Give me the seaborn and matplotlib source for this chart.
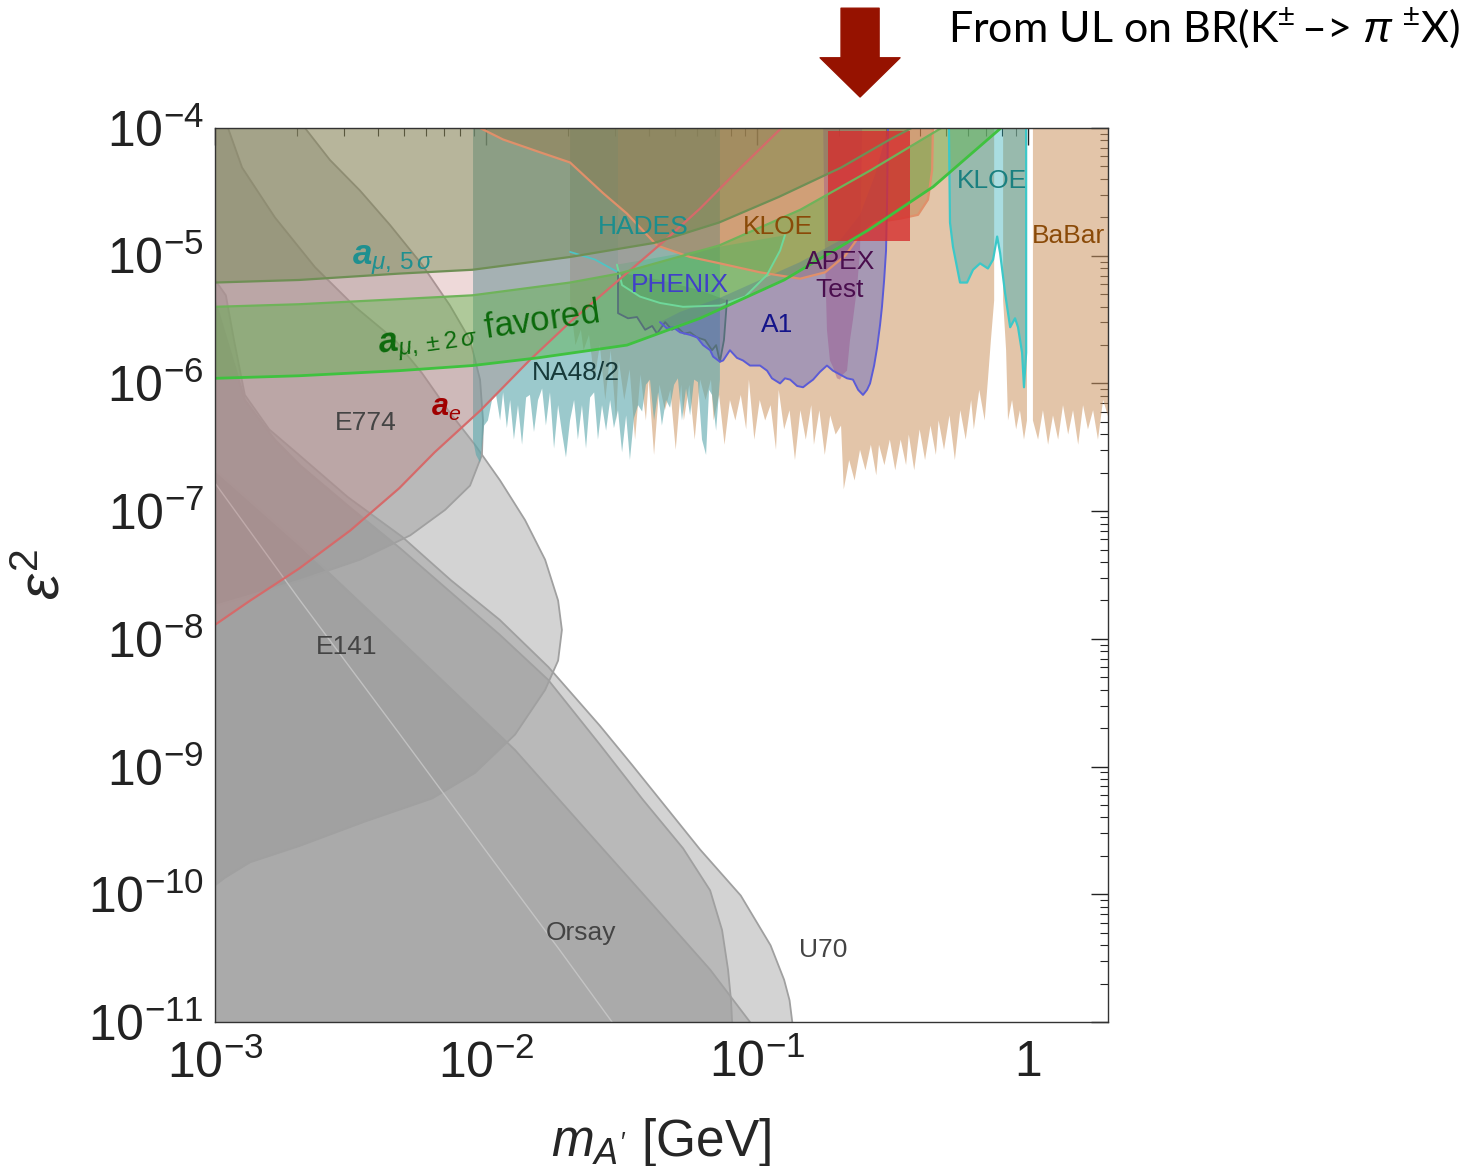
import numpy as np
import matplotlib
matplotlib.use("Agg")
import matplotlib.pyplot as plt
import seaborn as sns
from matplotlib.ticker import FixedLocator, FixedFormatter, LogLocator, NullFormatter

# ---------------------------------------------------------------------------
# Region boundaries, given as log10(m_A' / GeV) and log10(eps^2)
# ---------------------------------------------------------------------------

# electron g-2
ae_lgm = [-3.00, -2.87, -2.69, -2.50, -2.32, -2.19, -2.02, -1.84, -1.69, -1.51, -1.34, -1.21, -1.06, -0.91]
ae_lge = [-7.89, -7.70, -7.45, -7.15, -6.82, -6.54, -6.21, -5.82, -5.52, -5.19, -4.88, -4.63, -4.31, -4.00]

# muon g-2, 5 sigma
amu5_lgm = [-3.00, -2.69, -2.32, -2.05, -1.69, -1.38, -1.14, -0.92, -0.69, -0.51, -0.43]
amu5_lge = [-5.21, -5.19, -5.14, -5.11, -5.01, -4.90, -4.74, -4.54, -4.31, -4.09, -4.00]

# muon g-2, +-2 sigma favoured band
amu2_up_lgm = [-3.00, -2.69, -2.32, -2.05, -1.69, -1.51, -1.14, -0.84, -0.58, -0.32]
amu2_up_lge = [-5.40, -5.38, -5.34, -5.31, -5.21, -5.14, -4.92, -4.64, -4.33, -4.00]
amu2_lo_lgm = [-3.00, -2.69, -2.32, -2.05, -1.81, -1.48, -1.21, -0.90, -0.59, -0.35, -0.10]
amu2_lo_lge = [-5.96, -5.94, -5.90, -5.86, -5.80, -5.70, -5.49, -5.19, -4.80, -4.46, -4.00]

# beam dumps
u70_lgm = [-3.00, -2.96, -2.93, -2.89, -2.80, -2.69, -2.51, -2.31, -2.13, -1.95, -1.77, -1.58,
           -1.46, -1.21, -1.06, -0.95, -0.90, -0.88, -0.87]
u70_lge = [-5.19, -5.31, -5.66, -6.09, -6.36, -6.56, -6.89, -7.20, -7.54, -7.85, -8.22, -8.68,
           -8.99, -9.65, -10.01, -10.40, -10.67, -10.83, -11.00]
u70b_lgm = [-3.00, -2.945, -2.889, -2.779, -2.686, -2.502, -2.317, -2.133, -1.948, -1.771, -1.579,
            -1.421, -1.273, -1.173, -1.129, -1.107, -1.096, -1.092]
u70b_lge = [-5.35, -5.74, -6.13, -6.44, -6.64, -6.97, -7.29, -7.63, -7.97, -8.32, -8.83,
            -9.26, -9.64, -9.97, -10.28, -10.59, -10.83, -11.00]
orsay_lgm = [-3.00, -2.686, -2.317, -1.893, -1.579, -1.369, -1.173, -1.026]
orsay_lge = [-6.68, -7.27, -8.01, -8.87, -9.62, -10.12, -10.59, -11.00]
orsay_in_lgm = [-3.00, -2.686, -2.317, -1.948, -1.727, -1.535]
orsay_in_lge = [-6.78, -7.70, -8.75, -9.81, -10.44, -11.00]
e141_lgm = [-2.952, -2.900, -2.779, -2.631, -2.483, -2.336, -2.236, -2.140, -2.041, -1.948, -1.856,
            -1.782, -1.734, -1.720, -1.734, -1.782, -1.893, -2.041, -2.199, -2.446, -2.686, -2.871,
            -2.963, -3.000]
e141_lge = [-4.00, -4.31, -4.70, -5.09, -5.40, -5.66, -5.92, -6.21, -6.48, -6.76, -7.07,
            -7.38, -7.70, -7.93, -8.17, -8.40, -8.75, -9.05, -9.25, -9.43, -9.62, -9.75,
            -9.87, -9.93]
e774_lgm = [-2.668, -2.576, -2.465, -2.354, -2.236, -2.133, -2.059, -2.022, -2.011, -2.015, -2.059,
            -2.151, -2.280, -2.465, -2.686, -2.871, -3.000]
e774_lge = [-4.00, -4.25, -4.49, -4.76, -5.07, -5.39, -5.66, -5.97, -6.29, -6.56, -6.80,
            -6.99, -7.19, -7.38, -7.54, -7.66, -7.74]

# NA48/2
na48_lgm = [-2.048, -2.037, -2.022, -2.007, -1.993, -1.978, -1.963, -1.948, -1.937, -1.923, -1.911,
            -1.897, -1.882, -1.867, -1.852, -1.838, -1.823, -1.808, -1.793, -1.779, -1.764, -1.749,
            -1.734, -1.720, -1.705, -1.690, -1.675, -1.661, -1.646, -1.631, -1.616, -1.601, -1.587,
            -1.572, -1.557, -1.542, -1.528, -1.513, -1.498, -1.483, -1.469, -1.454, -1.439, -1.424,
            -1.410, -1.395, -1.380, -1.365, -1.351, -1.336, -1.321, -1.306, -1.292, -1.277, -1.262,
            -1.247, -1.232, -1.218, -1.203, -1.188, -1.177, -1.166, -1.151, -1.137]
na48_lge = [-6.44, -6.56, -6.62, -6.33, -6.29, -6.13, -6.09, -6.29, -6.07, -6.35, -6.13,
            -6.44, -6.17, -6.48, -6.11, -6.09, -6.38, -6.13, -6.04, -6.33, -6.07, -6.51,
            -6.17, -6.38, -6.58, -6.29, -6.13, -6.44, -6.17, -6.51, -6.11, -6.07, -6.44,
            -6.17, -6.37, -6.13, -6.35, -6.21, -6.54, -6.25, -6.60, -6.27, -6.17, -6.22,
            -6.01, -5.97, -6.29, -6.07, -6.33, -6.13, -6.19, -6.01, -5.96, -6.29, -6.04,
            -6.25, -5.97, -5.99, -6.44, -6.56, -6.05, -6.09, -6.37, -5.97]

# BaBar (three mass windows)
babar1_lgm = [-1.69, -1.67, -1.65, -1.64, -1.62, -1.60, -1.58, -1.56, -1.54, -1.52, -1.51, -1.49,
              -1.47, -1.45, -1.43, -1.41, -1.40, -1.38, -1.36, -1.34, -1.32, -1.30, -1.28, -1.27,
              -1.25, -1.23, -1.21, -1.19, -1.17, -1.16, -1.14, -1.12, -1.10, -1.08, -1.06, -1.04,
              -1.03, -1.01, -0.99, -0.97, -0.95, -0.93, -0.92, -0.90, -0.88, -0.86, -0.84, -0.82,
              -0.80, -0.79, -0.77, -0.75, -0.73, -0.71, -0.69, -0.68, -0.66, -0.64, -0.62, -0.60,
              -0.58, -0.56, -0.55, -0.53, -0.51, -0.49, -0.47, -0.45, -0.44, -0.42, -0.40, -0.38,
              -0.36, -0.34, -0.33, -0.31, -0.29, -0.27, -0.25, -0.23, -0.21, -0.20, -0.18, -0.16,
              -0.148, -0.137, -0.125]
babar1_lge = [-5.35, -5.70, -5.58, -5.74, -5.62, -5.97, -5.70, -6.13, -5.74, -6.29, -5.82, -6.13,
              -5.89, -6.44, -5.93, -6.29, -5.97, -6.56, -6.01, -6.21, -6.05, -6.52, -6.01, -6.29,
              -6.01, -6.44, -5.97, -6.13, -5.97, -6.29, -6.09, -6.48, -6.13, -6.29, -6.09, -6.36,
              -5.97, -6.44, -6.13, -6.29, -6.17, -6.52, -6.05, -6.36, -6.21, -6.60, -6.21, -6.44,
              -6.17, -6.48, -6.21, -6.56, -6.25, -6.40, -6.33, -6.83, -6.60, -6.76, -6.52, -6.68,
              -6.48, -6.72, -6.48, -6.64, -6.44, -6.68, -6.44, -6.64, -6.40, -6.68, -6.36, -6.60,
              -6.33, -6.56, -6.29, -6.52, -6.25, -6.60, -6.21, -6.44, -6.13, -6.36, -6.05, -6.29,
              -5.97, -5.66, -5.35]
babar2_lgm = [-0.092, -0.081, -0.074, -0.059, -0.044, -0.030, -0.015, -0.004]
babar2_lge = [-5.35, -5.74, -6.29, -6.13, -6.36, -6.21, -6.44, -6.29]
babar3_lgm = [0.018, 0.037, 0.055, 0.074, 0.092, 0.111, 0.129, 0.148, 0.166, 0.185, 0.203, 0.221,
              0.240, 0.258, 0.277, 0.300]
babar3_lge = [-6.29, -6.44, -6.21, -6.48, -6.25, -6.44, -6.17, -6.40, -6.21, -6.48, -6.17, -6.36,
              -6.21, -6.44, -6.13, -6.29]

# KLOE (phi -> eta A')
kloe_lgm = [-2.022, -1.937, -1.801, -1.690, -1.568, -1.480, -1.369, -1.247, -1.137, -0.989, -0.841,
            -0.749, -0.675, -0.620, -0.565, -0.472, -0.406, -0.369, -0.354, -0.351]
kloe_lge = [-4.00, -4.09, -4.19, -4.27, -4.51, -4.67, -4.92, -5.01, -5.06, -5.13, -5.18,
            -5.13, -5.00, -4.84, -4.74, -4.71, -4.68, -4.56, -4.33, -4.00]

# HADES
hades_lgm = [-1.690, -1.598, -1.513]
hades_lge = [-4.97, -5.03, -5.13]
hades_bowl_lgm = [-1.517, -1.498, -1.432, -1.358, -1.273, -1.137, -1.044, -0.963, -0.915, -0.897]
hades_bowl_lge = [-5.07, -5.23, -5.32, -5.37, -5.40, -5.39, -5.32, -5.15, -4.96, -4.84]

# PHENIX
phenix_lgm = [-1.513, -1.513, -1.476, -1.443, -1.413, -1.387, -1.369, -1.339, -1.314, -1.295, -1.269,
              -1.247, -1.221, -1.192, -1.166, -1.151, -1.137, -1.122, -1.111]
phenix_lge = [-5.13, -5.45, -5.49, -5.48, -5.58, -5.55, -5.61, -5.52, -5.58, -5.56, -5.61,
              -5.60, -5.64, -5.66, -5.74, -5.70, -5.83, -5.66, -5.35]
phenix_top_lgm = [-1.210, -1.358]
phenix_top_lge = [-5.27, -5.19]

# A1 (MAMI): lower edge and right edge, then the upper edge back to the start
a1_lgm = [-1.358, -1.332, -1.310, -1.284, -1.247, -1.221, -1.199, -1.173, -1.162, -1.137, -1.125,
          -1.100, -1.074, -1.052, -1.026, -0.989, -0.963, -0.945, -0.915, -0.897, -0.878, -0.852,
          -0.830, -0.812, -0.793, -0.768, -0.742, -0.720, -0.694, -0.668, -0.646, -0.627, -0.609,
          -0.594, -0.583, -0.568, -0.557, -0.546, -0.539, -0.531, -0.524, -0.520, -0.517]
a1_lge = [-5.52, -5.57, -5.56, -5.60, -5.62, -5.64, -5.70, -5.74, -5.79, -5.83, -5.82,
          -5.74, -5.80, -5.82, -5.86, -5.86, -5.90, -5.96, -6.00, -5.96, -5.97, -6.02,
          -6.03, -6.00, -5.97, -5.91, -5.86, -5.90, -5.93, -5.96, -5.97, -6.05, -6.09,
          -6.05, -6.00, -5.86, -5.72, -5.54, -5.40, -5.19, -4.96, -4.56, -4.00]
a1_top_lgm = [-0.565, -0.620, -0.694, -0.841, -0.989, -1.137, -1.284]
a1_top_lge = [-4.37, -4.68, -4.88, -5.05, -5.19, -5.33, -5.44]

# APEX test run
apex_lgm = [-0.756, -0.749, -0.742, -0.731, -0.720, -0.705, -0.694, -0.683, -0.668, -0.657, -0.646,
            -0.631, -0.620, -0.612]
apex_lge = [-4.00, -5.03, -5.58, -5.82, -5.87, -5.96, -5.97, -5.93, -5.90, -5.66, -5.50,
            -5.25, -4.96, -4.00]

# KLOE (e+e- -> U gamma)
kloe2_lgm = [-0.292, -0.288, -0.277, -0.251, -0.225, -0.203, -0.177, -0.148, -0.129, -0.114, -0.103,
             -0.085, -0.066, -0.048, -0.037, -0.022, -0.015, -0.007, -0.007]
kloe2_lge = [-4.00, -4.74, -4.93, -5.21, -5.21, -5.11, -5.06, -5.10, -5.03, -4.85, -4.98,
             -5.29, -5.56, -5.49, -5.56, -5.76, -6.03, -5.76, -4.00]

# Projected reach window of the full run (mass in GeV, eps^2)
run_mass = [0.183, 0.367]
run_eps2 = [1.3e-5, 9.5e-5]

# Arrow position (GeV) for the kaon-decay bound note
kaon_arrow_mass = 0.24

x_ticks = [1e-3, 1e-2, 1e-1, 1.0]
x_ticklabels = [r"$10^{-3}$", r"$10^{-2}$", r"$10^{-1}$", r"$1$"]
y_ticks = [1e-11, 1e-10, 1e-9, 1e-8, 1e-7, 1e-6, 1e-5, 1e-4]
y_ticklabels = [r"$10^{-11}$", r"$10^{-10}$", r"$10^{-9}$", r"$10^{-8}$",
                r"$10^{-7}$", r"$10^{-6}$", r"$10^{-5}$", r"$10^{-4}$"]

# ---------------------------------------------------------------------------
sns.set_theme(style="white")
plt.rcParams["font.family"] = ["Liberation Sans", "DejaVu Sans"]
plt.rcParams["mathtext.fontset"] = "custom"
plt.rcParams["mathtext.rm"] = "Liberation Sans"
plt.rcParams["mathtext.it"] = "Liberation Sans:italic"
plt.rcParams["mathtext.bf"] = "Liberation Sans:bold"
plt.rcParams["mathtext.bfit"] = "Liberation Sans:bold:italic"

fig = plt.figure(figsize=(14.78, 11.66), dpi=100)
ax = fig.add_axes([0.14547, 0.12350, 0.60419, 0.76672])
ax.set_xscale("log")
ax.set_yscale("log")
ax.set_xlim(1e-3, 10 ** 0.295)
ax.set_ylim(1e-11, 1e-4)

TOP, BOT, LEFT = -3.8, -11.3, -3.2


def lin(v):
    return 10.0 ** np.asarray(v, dtype=float)


def region(lgm, lge, color, alpha, z):
    ax.fill(lin(lgm), lin(lge), facecolor=color, alpha=alpha, lw=0, zorder=z)


def edge(lgm, lge, color, lw, z, alpha=1.0):
    sns.lineplot(x=lin(lgm), y=lin(lge), sort=False, estimator=None, color=color,
                 lw=lw, alpha=alpha, ax=ax, zorder=z)


gray = (0.59, 0.59, 0.59)
gray_edge = "#a0a0a0"

# beam dumps
region([LEFT] + u70_lgm + [u70_lgm[-1], LEFT], [u70_lge[0]] + u70_lge + [BOT, BOT], gray, 0.41, 1.0)
region([LEFT] + u70b_lgm + [u70b_lgm[-1], LEFT], [u70b_lge[0]] + u70b_lge + [BOT, BOT], gray, 0.41, 1.1)
region([LEFT] + orsay_lgm + [orsay_lgm[-1], LEFT], [orsay_lge[0]] + orsay_lge + [BOT, BOT], gray, 0.41, 1.2)
region([LEFT, e141_lgm[0]] + e141_lgm + [LEFT], [TOP, TOP] + e141_lge + [e141_lge[-1]], gray, 0.41, 1.3)
region([LEFT, e774_lgm[0]] + e774_lgm + [LEFT], [TOP, TOP] + e774_lge + [e774_lge[-1]], gray, 0.41, 1.4)
for lm, le in [(u70_lgm, u70_lge), (u70b_lgm, u70b_lge), (orsay_lgm, orsay_lge),
               (e141_lgm, e141_lge), (e774_lgm, e774_lge)]:
    edge(lm, le, gray_edge, 1.3, 1.5)
edge(orsay_in_lgm, orsay_in_lge, "#cfcfcf", 1.0, 1.5, alpha=0.7)

# searches (drawn beneath the g-2 overlays)
tan = (0.80, 0.59, 0.39)
region([babar1_lgm[0]] + babar1_lgm + [babar1_lgm[-1]], [TOP] + babar1_lge + [TOP], tan, 0.55, 2.0)
region([babar2_lgm[0]] + babar2_lgm + [babar2_lgm[-1]], [TOP] + babar2_lge + [TOP], tan, 0.55, 2.0)
region([babar3_lgm[0]] + babar3_lgm + [babar3_lgm[-1]], [TOP] + babar3_lge + [TOP], tan, 0.55, 2.0)
region([na48_lgm[0]] + na48_lgm + [na48_lgm[-1]], [TOP] + na48_lge + [TOP], (0.35, 0.65, 0.67), 0.6, 2.1)
region(kloe_lgm + [kloe_lgm[-1], kloe_lgm[0]], kloe_lge + [TOP, TOP], (0.72, 0.42, 0.20), 0.42, 2.2)
region([hades_lgm[0]] + hades_lgm + [hades_lgm[-1]], [TOP] + hades_lge + [TOP], (0.27, 0.62, 0.60), 0.2, 2.3)
region(hades_bowl_lgm, hades_bowl_lge, (0.25, 0.72, 0.50), 0.35, 2.3)
region(phenix_lgm + phenix_top_lgm, phenix_lge + phenix_top_lge, (0.30, 0.45, 0.38), 0.3, 2.4)
region(a1_lgm + a1_top_lgm, a1_lge + a1_top_lge, (0.36, 0.39, 0.76), 0.45, 2.5)
region([apex_lgm[0]] + apex_lgm + [apex_lgm[-1]], [TOP] + apex_lge + [TOP], (0.60, 0.30, 0.55), 0.4, 2.6)
region([kloe2_lgm[0]] + kloe2_lgm + [kloe2_lgm[-1]], [TOP] + kloe2_lge + [TOP], (0.16, 0.67, 0.71), 0.4, 2.7)

# g-2 regions
region([LEFT] + ae_lgm + [ae_lgm[-1], LEFT], [ae_lge[0]] + ae_lge + [TOP, TOP], (0.76, 0.45, 0.45), 0.27, 3)
region([LEFT] + amu5_lgm + [amu5_lgm[-1], LEFT], [amu5_lge[0]] + amu5_lge + [TOP, TOP], (0.42, 0.52, 0.28), 0.42, 3.1)
region([LEFT] + amu2_up_lgm + amu2_lo_lgm[::-1] + [LEFT],
       [amu2_up_lge[0]] + amu2_up_lge + amu2_lo_lge[::-1] + [amu2_lo_lge[0]], (0.35, 0.70, 0.27), 0.42, 3.2)

# full-run reach
ax.fill_between(run_mass, run_eps2[0], run_eps2[1], color=(0.84, 0.18, 0.18), alpha=0.8, lw=0, zorder=13)

# boundary lines
edge(kloe_lgm, kloe_lge, "#e0906a", 1.6, 4)
edge(hades_lgm, hades_lge, "#4fc4c4", 1.3, 4)
edge(hades_bowl_lgm, hades_bowl_lge, "#6fd89a", 1.4, 4)
edge(phenix_lgm, phenix_lge, "#56707a", 1.3, 4)
edge(a1_lgm, a1_lge, "#5b5bd6", 1.4, 4)
edge(kloe2_lgm, kloe2_lge, "#3cc8c8", 1.6, 4)
edge(ae_lgm, ae_lge, "#d56a6a", 1.6, 14)
edge(amu5_lgm, amu5_lge, "#6f8f55", 1.6, 14)
edge(amu2_up_lgm, amu2_up_lge, "#6fb35a", 1.6, 14)
edge(amu2_lo_lgm, amu2_lo_lge, "#3fc23f", 2.0, 14)

# labels
lab = dict(ha="center", va="center", zorder=20, fontsize=19)
ax.text(lin(-2.343), lin(-5.034), r"$\mathbfit{a}_{\mu,\,5\,\sigma}$", color="#1f9090", fontsize=25,
        ha="center", va="center", zorder=20)
ax.text(lin(-1.99), lin(-5.58), r"$\mathbfit{a}_{\mu,\pm2\,\sigma}$ favored", color="#0c6a0c", fontsize=25,
        rotation=8, ha="center", va="center", zorder=20)
ax.text(lin(-2.148), lin(-6.19), r"$\mathbfit{a}_{e}$", color="#a00000", fontsize=22,
        ha="center", va="center", zorder=20)
ax.text(lin(-2.443), lin(-6.31), "E774", color="#444444", **lab)
ax.text(lin(-2.513), lin(-8.06), "E141", color="#444444", **lab)
ax.text(lin(-1.649), lin(-10.30), "Orsay", color="#444444", **lab)
ax.text(lin(-0.756), lin(-10.44), "U70", color="#444444", **lab)
ax.text(lin(-1.421), lin(-4.775), "HADES", color="#1b8e8e", **lab)
ax.text(lin(-0.922), lin(-4.775), "KLOE", color="#8a4a08", **lab)
ax.text(lin(-1.284), lin(-5.229), "PHENIX", color="#4040c8", **lab)
ax.text(lin(-0.926), lin(-5.543), "A1", color="#14148a", **lab)
ax.text(lin(-0.694), lin(-5.049), "APEX", color="#4a0e4e", **lab)
ax.text(lin(-0.694), lin(-5.268), "Test", color="#4a0e4e", **lab)
ax.text(lin(-1.668), lin(-5.918), "NA48/2", color="#173a3a", **lab)
ax.text(lin(-0.133), lin(-4.415), "KLOE", color="#1a8080", **lab)
ax.text(lin(0.151), lin(-4.846), "BaBar", color="#8a4a08", **lab)

# axes styling
ax.xaxis.set_major_locator(FixedLocator(x_ticks))
ax.xaxis.set_major_formatter(FixedFormatter(x_ticklabels))
ax.xaxis.set_minor_locator(LogLocator(base=10, subs=np.arange(2, 10)))
ax.xaxis.set_minor_formatter(NullFormatter())
ax.yaxis.set_major_locator(FixedLocator(y_ticks))
ax.yaxis.set_major_formatter(FixedFormatter(y_ticklabels))
ax.yaxis.set_minor_locator(LogLocator(base=10, subs=np.arange(2, 10), numticks=20))
ax.yaxis.set_minor_formatter(NullFormatter())
ax.tick_params(which="both", direction="in", top=True, right=True, colors="#222222")
ax.tick_params(which="major", length=12, width=1.0, labelsize=36)
ax.tick_params(axis="x", which="major", pad=13)
ax.tick_params(axis="y", which="major", pad=8)
ax.tick_params(which="minor", length=6, width=0.8)
for s in ax.spines.values():
    s.set_color("#333333")
    s.set_linewidth(1.0)
    s.set_zorder(30)
ax.set_xlabel(r"$m_{A'}$ [GeV]", fontsize=37, labelpad=20)
ax.set_ylabel(r"$\varepsilon^{2}$", fontsize=42, labelpad=12)

# kaon decay note above the frame
ax.annotate("", xy=(kaon_arrow_mass, 1.0347), xycoords=("data", "axes fraction"),
            xytext=(kaon_arrow_mass, 1.134), textcoords=("data", "axes fraction"),
            arrowprops=dict(arrowstyle="simple,head_length=1.03,head_width=2.1,tail_width=1.0",
                            color="#961200", mutation_scale=27.4, shrinkA=0, shrinkB=0),
            annotation_clip=False)
fig.text(948 / 1478, 1 - 28 / 1166, r"From UL on BR(K$^{\pm}$$\,$–> $\pi$ $^{\pm}$X)",
         fontsize=31, family=["Lato", "DejaVu Sans"], ha="left", va="center", color="black")

fig.savefig("out.png", dpi=100)
